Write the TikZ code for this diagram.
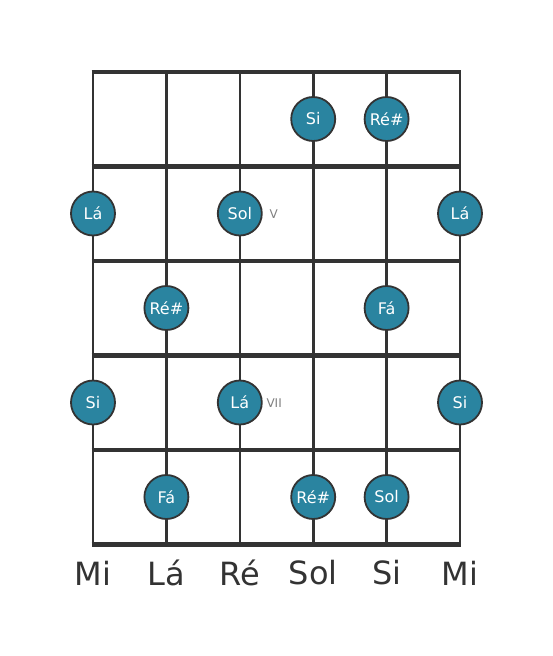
\documentclass[tikz,border=0pt]{standalone}
\usepackage{fontspec}
\setmainfont{DejaVu Sans}
\definecolor{teal0}{HTML}{2A84A0}
\definecolor{lin}{HTML}{333333}
\begin{document}
\begin{tikzpicture}[x=1pt,y=-1pt,
  note/.style={circle,draw=lin,line width=1.8pt,fill=teal0,minimum size=44pt,inner sep=0pt,text=white,font=\fontsize{16}{16}\selectfont},
  strg/.style={draw=lin,line width=2.6pt},
  fret/.style={draw=lin,line width=4.5pt},
  sname/.style={text=lin,font=\fontsize{32}{32}\selectfont},
  fretnum/.style={text=gray,font=\fontsize{12}{12}\selectfont,anchor=west}]
\useasboundingbox (0,0) rectangle (553,656);
\foreach \i/\x in {1/93,2/166.4,3/239.8,4/313.2,5/386.6,6/460}{
  \coordinate (t\i) at (\x,72);
  \coordinate (b\i) at (\x,544.5);
  \draw[strg] (t\i) -- (b\i);
}
\foreach \j/\y in {0/72,1/166.5,2/261,3/355.5,4/450,5/544.5}{
  \coordinate (fl\j) at (91.7,\y);
  \coordinate (fr\j) at (461.3,\y);
  \draw[fret] (fl\j) -- (fr\j);
}
\node[note] (n1) at (313.2,119) {Si};
\node[note] (n2) at (386.6,119) {Ré\#};
\node[note] (n3) at (93,213.5) {Lá};
\node[note] (n4) at (239.8,213.5) {Sol};
\node[note] (n5) at (460,213.5) {Lá};
\node[note] (n6) at (166.4,308) {Ré\#};
\node[note] (n7) at (386.6,308) {Fá};
\node[note] (n8) at (93,402.5) {Si};
\node[note] (n9) at (239.8,402.5) {Lá};
\node[note] (n10) at (460,402.5) {Si};
\node[note] (n11) at (166.4,497) {Fá};
\node[note] (n12) at (313.2,497) {Ré\#};
\node[note] (n13) at (386.6,497) {Sol};
\node[fretnum] (p1) at (266,214) {V};
\node[fretnum] (p2) at (263,403) {VII};
\node[sname] (s1) at (93,573) {Mi};
\node[sname] (s2) at (166.4,573) {Lá};
\node[sname] (s3) at (239.8,573) {Ré};
\node[sname] (s4) at (313.2,573) {Sol};
\node[sname] (s5) at (386.6,573) {Si};
\node[sname] (s6) at (460,573) {Mi};
\end{tikzpicture}
\end{document}
